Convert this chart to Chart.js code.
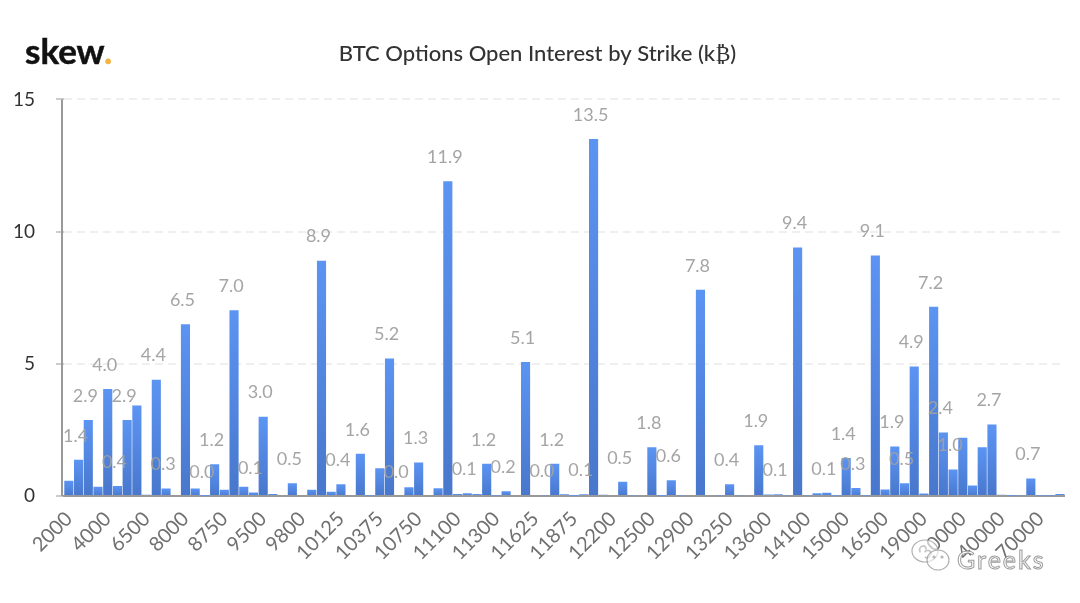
<!DOCTYPE html>
<html><head><meta charset="utf-8">
<style>html,body{margin:0;padding:0;background:#fff}
#wrap{position:relative;width:1080px;height:603px;overflow:hidden}
#logo{position:absolute;left:25px;top:26px;font:700 35px Lato,sans-serif;color:#111;letter-spacing:0;line-height:48px;-webkit-text-stroke:.5px #111}
#logo span{color:#f2b544;-webkit-text-stroke:.5px #f2b544}
#mark{position:absolute;left:908px;top:538px;width:140px;height:40px;pointer-events:none}
#mark b{position:absolute;left:49px;top:6px;font:400 25px Lato,sans-serif;color:rgba(255,255,255,.8);-webkit-text-stroke:1px rgba(130,130,130,.8);letter-spacing:2px}
</style>
<script src="https://cdn.jsdelivr.net/npm/chart.js@4"></script>
</head><body><div id="wrap"><canvas id="c" width="1080" height="603"></canvas>
<div id="logo">skew<span>.</span></div>
<div id="mark"><svg width="50" height="40" fill="rgba(255,255,255,.6)" stroke="rgba(150,150,150,.75)" stroke-width="1.2"><ellipse cx="17" cy="13" rx="13" ry="11"/><ellipse cx="30" cy="22" rx="11" ry="10"/><circle cx="26" cy="19" r="1"/><circle cx="34" cy="19" r="1"/></svg><b>Greeks</b></div>
</div>
<script>
const strikeTicks=["2000","4000","6500","8000","8750","9500","9800","10125","10375","10750","11100","11300","11625","11875","12200","12500","12900","13250","13600","14100","15000","16500","19000","30000","40000","70000"];
const tickEvery=4;
const values=[0.58,1.37,2.87,0.35,4.05,0.38,2.87,3.42,0.05,4.4,0.28,0,6.5,0.28,0.01,1.2,0.24,7.03,0.35,0.13,3.0,0.08,0.04,0.48,0,0.24,8.9,0.16,0.44,0.04,1.6,0.02,1.05,5.2,0,0.33,1.27,0,0.29,11.9,0.08,0.1,0.08,1.22,0.02,0.18,0,5.07,0,0.03,1.22,0.07,0.01,0.07,13.5,0.05,0,0.54,0.03,0,1.84,0.01,0.6,0.03,0,7.8,0.04,0.03,0.44,0.03,0,1.92,0.06,0.07,0.03,9.4,0.03,0.1,0.12,0.02,1.44,0.3,0.02,9.1,0.25,1.87,0.48,4.9,0.09,7.16,2.4,1.0,2.2,0.4,1.84,2.7,0.05,0.01,0.03,0.66,0.02,0.02,0.08];
const labelledBars=[1,2,4,5,6,9,10,12,14,15,17,19,20,23,26,28,30,33,34,36,39,41,43,45,47,49,50,53,54,57,60,62,65,68,71,73,75,78,80,81,83,85,86,87,89,90,91,95,99];
const categories=values.map((v,i)=>i%tickEvery===0?strikeTicks[i/tickEvery]:"");
const yTicks=[0,5,10,15];

const barLabels={id:'barLabels',afterDatasetsDraw(chart){
  const ctx=chart.ctx,meta=chart.getDatasetMeta(0);
  ctx.save();ctx.font='400 18px Lato';ctx.fillStyle='rgba(160,160,160,.95)';ctx.textAlign='center';ctx.textBaseline='middle';
  labelledBars.forEach(i=>{const b=meta.data[i];ctx.fillText(values[i].toFixed(1),b.x-3,b.y-24);});
  ctx.restore();
}};
const yAxisLine={id:'yAxisLine',beforeDatasetsDraw(chart){
  const ctx=chart.ctx,a=chart.chartArea;
  ctx.save();ctx.strokeStyle='#999';ctx.lineWidth=2;ctx.beginPath();ctx.moveTo(a.left-2,a.top);ctx.lineTo(a.left-2,a.bottom);ctx.stroke();ctx.restore();
}};
new Chart(document.getElementById('c'),{type:'bar',
 data:{labels:categories,datasets:[{data:values,barPercentage:.94,categoryPercentage:1,
  backgroundColor(c){const a=c.chart.chartArea;if(!a)return '#5288e6';
   const g=c.chart.ctx.createLinearGradient(0,c.chart.scales.y.getPixelForValue(c.raw||0),0,a.bottom+1);
   g.addColorStop(0,'#5c94f3');g.addColorStop(1,'#4877cc');return g;}}]},
 options:{responsive:false,animation:false,
  layout:{padding:{right:12,left:7,top:0,bottom:0}},
  plugins:{legend:{display:false},tooltip:{enabled:false},
   title:{display:true,text:'BTC Options Open Interest by Strike (k₿)',color:'#333',font:{family:'Lato',size:22,weight:'500'},padding:{top:41,bottom:32}}},
  scales:{
   x:{afterFit(s){s.height=107},grid:{display:false},border:{color:'#999',width:2},
     ticks:{autoSkip:false,maxRotation:45,minRotation:45,color:'#707070',font:{family:'Lato',size:20},padding:3}},
   y:{min:0,max:15,afterFit(s){s.width=57},afterBuildTicks(s){s.ticks=yTicks.map(v=>({value:v}))},
     border:{display:false,dash:[8,5]},
     grid:{color(c){return c.tick.value===0?'transparent':'#efefef'},lineWidth:2,tickColor:'#999',tickLength:8,tickWidth:1,drawTicks:true},
     ticks:{color:'#333',font:{family:'Lato',size:19},padding:21}}
  }},
 plugins:[barLabels,yAxisLine]});
</script></body></html>
